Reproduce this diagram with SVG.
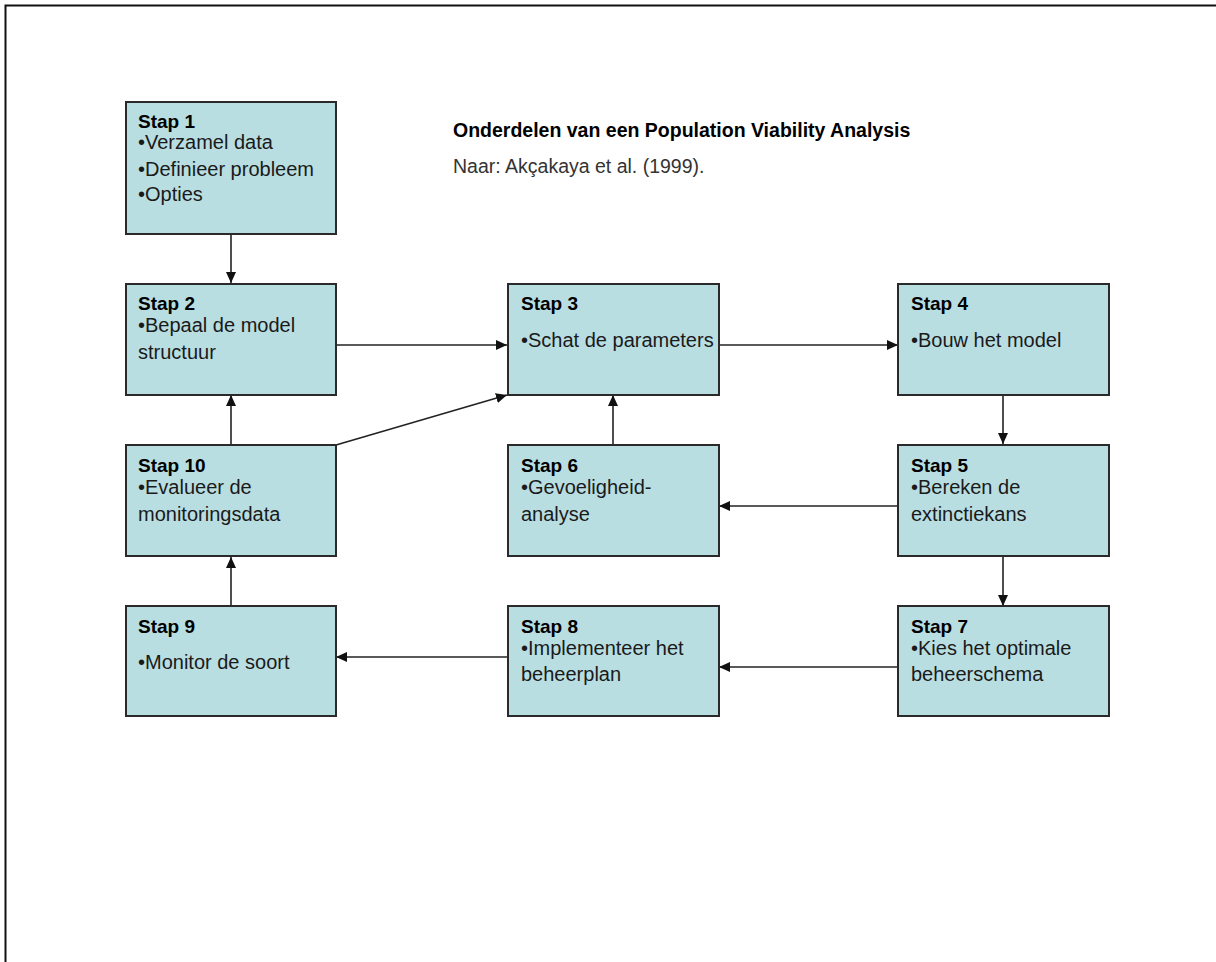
<svg xmlns="http://www.w3.org/2000/svg" width="1216" height="962" viewBox="0 0 1216 962">
<style>
.box{fill:#B9DEE2;stroke:#2a2a2a;stroke-width:2}
.t{font-family:"Liberation Sans",Arial,sans-serif;font-size:20px;fill:#1a1a1a}
.h{font-weight:bold;fill:#000;font-size:19px}
.ti{font-size:19.5px}
.c{stroke:#222;stroke-width:1.6;fill:none;marker-end:url(#ah)}
</style>
<defs>
<marker id="ah" markerUnits="userSpaceOnUse" markerWidth="12" markerHeight="10" refX="11" refY="5" orient="auto">
<path d="M0,0 L11,5 L0,10 Z" fill="#111"/>
</marker>
</defs>
<rect width="1216" height="962" fill="#fff"/>
<path d="M1216,5.5 H5.5 V962" stroke="#111" stroke-width="2" fill="none"/>
<g id="title">
<text class="t h ti" x="453" y="137">Onderdelen van een Population Viability Analysis</text>
<text class="t ti" x="453" y="173" style="fill:#333">Naar: Akçakaya et al. (1999).</text>
</g>
<g id="connectors">
<line class="c" x1="231" y1="234" x2="231" y2="283"/>
<line class="c" x1="336" y1="345" x2="507" y2="345"/>
<line class="c" x1="719" y1="345" x2="898" y2="345"/>
<line class="c" x1="1003" y1="395" x2="1003" y2="444"/>
<line class="c" x1="898" y1="506" x2="719" y2="506"/>
<line class="c" x1="613" y1="445" x2="613" y2="395"/>
<line class="c" x1="1003" y1="557" x2="1003" y2="606"/>
<line class="c" x1="898" y1="667" x2="719" y2="667"/>
<line class="c" x1="507" y1="657" x2="336" y2="657"/>
<line class="c" x1="231" y1="606" x2="231" y2="557"/>
<line class="c" x1="231" y1="445" x2="231" y2="395"/>
<line class="c" x1="336" y1="445" x2="507" y2="395"/>
</g>
<g id="stap1">
<rect class="box" x="126" y="102" width="210" height="132"/>
<text class="t h" x="138" y="128">Stap 1</text>
<text class="t" x="138" y="149">•Verzamel data</text>
<text class="t" x="138" y="176">•Definieer probleem</text>
<text class="t" x="138" y="201">•Opties</text>
</g>
<g id="stap2">
<rect class="box" x="126" y="284" width="210" height="111"/>
<text class="t h" x="138" y="310">Stap 2</text>
<text class="t" x="138" y="332">•Bepaal de model</text>
<text class="t" x="138" y="359">structuur</text>
</g>
<g id="stap3">
<rect class="box" x="508" y="284" width="211" height="111"/>
<text class="t h" x="521" y="310">Stap 3</text>
<text class="t" x="521" y="347">•Schat de parameters</text>
</g>
<g id="stap4">
<rect class="box" x="898" y="284" width="211" height="111"/>
<text class="t h" x="911" y="310">Stap 4</text>
<text class="t" x="911" y="347">•Bouw het model</text>
</g>
<g id="stap10">
<rect class="box" x="126" y="445" width="210" height="111"/>
<text class="t h" x="138" y="472">Stap 10</text>
<text class="t" x="138" y="494">•Evalueer de</text>
<text class="t" x="138" y="521">monitoringsdata</text>
</g>
<g id="stap6">
<rect class="box" x="508" y="445" width="211" height="111"/>
<text class="t h" x="521" y="472">Stap 6</text>
<text class="t" x="521" y="494">•Gevoeligheid-</text>
<text class="t" x="521" y="521">analyse</text>
</g>
<g id="stap5">
<rect class="box" x="898" y="445" width="211" height="111"/>
<text class="t h" x="911" y="472">Stap 5</text>
<text class="t" x="911" y="494">•Bereken de</text>
<text class="t" x="911" y="521">extinctiekans</text>
</g>
<g id="stap9">
<rect class="box" x="126" y="606" width="210" height="110"/>
<text class="t h" x="138" y="633">Stap 9</text>
<text class="t" x="138" y="669">•Monitor de soort</text>
</g>
<g id="stap8">
<rect class="box" x="508" y="606" width="211" height="110"/>
<text class="t h" x="521" y="633">Stap 8</text>
<text class="t" x="521" y="655">•Implementeer het</text>
<text class="t" x="521" y="681">beheerplan</text>
</g>
<g id="stap7">
<rect class="box" x="898" y="606" width="211" height="110"/>
<text class="t h" x="911" y="633">Stap 7</text>
<text class="t" x="911" y="655">•Kies het optimale</text>
<text class="t" x="911" y="681">beheerschema</text>
</g>
</svg>
